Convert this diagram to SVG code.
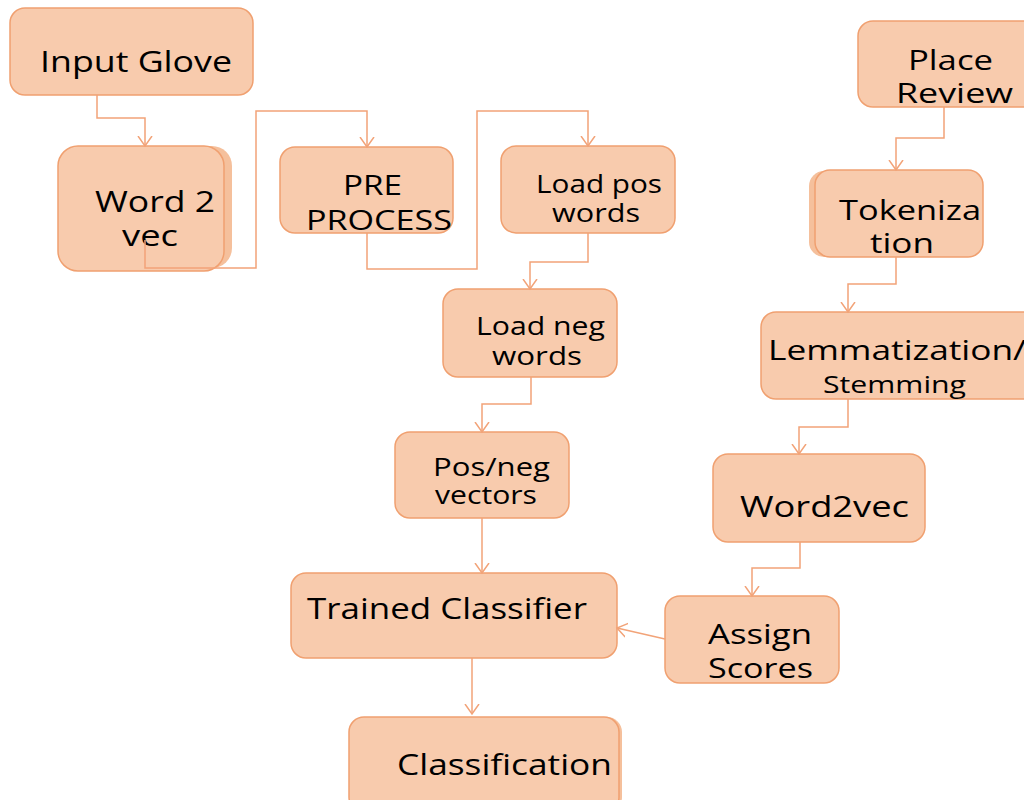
<svg xmlns="http://www.w3.org/2000/svg" width="1024" height="800" viewBox="0 0 1024 800">
<style>
.box{fill:#f8cbad;stroke:#f0a070;stroke-width:1.5}
.shadow{fill:#f5c09c;stroke:none}
.t{font-family:"Open Sans","Noto Sans",sans-serif;fill:#000}
.c{fill:none;stroke:#f2a378;stroke-width:1.5}
</style>
<defs>
<marker id="arr" markerUnits="userSpaceOnUse" markerWidth="20" markerHeight="20" refX="10" refY="10" orient="auto">
<path d="M0,3 L10,10 L0,17" fill="none" stroke="#f2a378" stroke-width="1.5"/>
</marker>
</defs>
<rect width="1024" height="800" fill="#fff"/>
<g id="input-glove">
<rect class="box" x="10" y="8" width="243" height="87" rx="15"/>
<text class="t" x="40" y="72" font-size="30" textLength="192" lengthAdjust="spacingAndGlyphs">Input Glove</text>
</g>
<g id="word2vec-left">
<rect class="shadow" x="66" y="146" width="166" height="122" rx="20"/>
<rect class="box" x="58" y="146" width="166" height="125" rx="20"/>
<text class="t" x="95" y="212" font-size="29" textLength="120" lengthAdjust="spacingAndGlyphs">Word 2</text>
<text class="t" x="122" y="246" font-size="29" textLength="56" lengthAdjust="spacingAndGlyphs">vec</text>
</g>
<g id="pre-process">
<rect class="box" x="280" y="147" width="173" height="86" rx="15"/>
<text class="t" x="343" y="195" font-size="28" textLength="59" lengthAdjust="spacingAndGlyphs">PRE</text>
<text class="t" x="306" y="230" font-size="28" textLength="146" lengthAdjust="spacingAndGlyphs">PROCESS</text>
</g>
<g id="load-pos">
<rect class="box" x="501" y="146" width="174" height="87" rx="15"/>
<text class="t" x="536" y="193" font-size="25" textLength="126" lengthAdjust="spacingAndGlyphs">Load pos</text>
<text class="t" x="552" y="222" font-size="25" textLength="88" lengthAdjust="spacingAndGlyphs">words</text>
</g>
<g id="load-neg">
<rect class="box" x="443" y="289" width="174" height="88" rx="15"/>
<text class="t" x="476" y="335" font-size="25" textLength="129" lengthAdjust="spacingAndGlyphs">Load neg</text>
<text class="t" x="492" y="365" font-size="25" textLength="90" lengthAdjust="spacingAndGlyphs">words</text>
</g>
<g id="pos-neg">
<rect class="box" x="395" y="432" width="174" height="86" rx="15"/>
<text class="t" x="433" y="476" font-size="25" textLength="117" lengthAdjust="spacingAndGlyphs">Pos/neg</text>
<text class="t" x="435" y="504" font-size="25" textLength="102" lengthAdjust="spacingAndGlyphs">vectors</text>
</g>
<g id="trained-classifier">
<rect class="box" x="291" y="573" width="326" height="85" rx="15"/>
<text class="t" x="307" y="619" font-size="29" textLength="280" lengthAdjust="spacingAndGlyphs">Trained Classifier</text>
</g>
<g id="classification">
<rect class="shadow" x="353" y="717" width="269" height="95" rx="15"/>
<rect class="box" x="349" y="717" width="270" height="95" rx="15"/>
<text class="t" x="397" y="775" font-size="30" textLength="215" lengthAdjust="spacingAndGlyphs">Classification</text>
</g>
<g id="place-review">
<rect class="box" x="858" y="21" width="180" height="86" rx="15"/>
<text class="t" x="908" y="70" font-size="28" textLength="85" lengthAdjust="spacingAndGlyphs">Place</text>
<text class="t" x="896" y="103" font-size="28" textLength="117" lengthAdjust="spacingAndGlyphs">Review</text>
</g>
<g id="tokenization">
<rect class="shadow" x="809" y="171" width="168" height="86" rx="15"/>
<rect class="box" x="815" y="170" width="168" height="87" rx="15"/>
<text class="t" x="839" y="220" font-size="28" textLength="142" lengthAdjust="spacingAndGlyphs">Tokeniza</text>
<text class="t" x="870" y="253" font-size="28" textLength="64" lengthAdjust="spacingAndGlyphs">tion</text>
</g>
<g id="lemmatization">
<rect class="box" x="761" y="312" width="280" height="87" rx="15"/>
<text class="t" x="768" y="360" font-size="28" textLength="258" lengthAdjust="spacingAndGlyphs">Lemmatization/</text>
<text class="t" x="823" y="393" font-size="24" textLength="143" lengthAdjust="spacingAndGlyphs">Stemming</text>
</g>
<g id="word2vec-right">
<rect class="box" x="713" y="454" width="212" height="88" rx="15"/>
<text class="t" x="740" y="517" font-size="30" textLength="169" lengthAdjust="spacingAndGlyphs">Word2vec</text>
</g>
<g id="assign-scores">
<rect class="box" x="665" y="596" width="174" height="87" rx="15"/>
<text class="t" x="708" y="644" font-size="28" textLength="104" lengthAdjust="spacingAndGlyphs">Assign</text>
<text class="t" x="708" y="678" font-size="28" textLength="105" lengthAdjust="spacingAndGlyphs">Scores</text>
</g>
<g id="connectors">
<path class="c" d="M97,95 V118 H145 V146" marker-end="url(#arr)"/>
<path class="c" d="M145,240 V268 H256 V111 H367 V147" marker-end="url(#arr)"/>
<path class="c" d="M367,233 V269 H477 V111 H588 V146" marker-end="url(#arr)"/>
<path class="c" d="M588,233 V262 H530 V289" marker-end="url(#arr)"/>
<path class="c" d="M531,377 V404 H482 V432" marker-end="url(#arr)"/>
<path class="c" d="M482,518 V573" marker-end="url(#arr)"/>
<path class="c" d="M472,658 V714" marker-end="url(#arr)"/>
<path class="c" d="M944,107 V138 H896 V170" marker-end="url(#arr)"/>
<path class="c" d="M896,257 V284 H848 V312" marker-end="url(#arr)"/>
<path class="c" d="M848,399 V427 H799 V454" marker-end="url(#arr)"/>
<path class="c" d="M800,542 V568 H752 V596" marker-end="url(#arr)"/>
<path class="c" d="M665,639 L617,628" marker-end="url(#arr)"/>
</g>
</svg>
